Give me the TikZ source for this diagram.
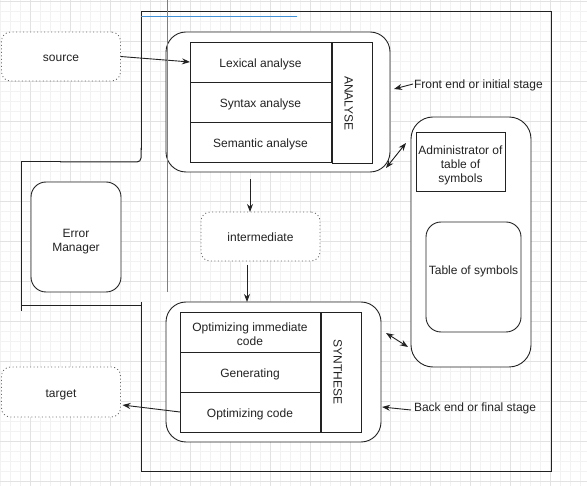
\documentclass[tikz,border=0pt]{standalone}
\usepackage{fontspec}
\setmainfont{Liberation Sans}
\usetikzlibrary{arrows.meta}
\definecolor{gridmin}{HTML}{F2F2F2}
\definecolor{gridmaj}{HTML}{E2E2E2}
\definecolor{blueline}{HTML}{3F8FD6}
\definecolor{ink}{HTML}{222222}
\begin{document}
\begin{tikzpicture}[x=1pt,y=-1pt,
  font=\fontsize{12}{14}\selectfont,
  every node/.style={inner sep=0pt, outer sep=0pt, text=ink, text height=13pt, text depth=2pt},
  multi/.style={align=center, text height=, text depth=},
  box/.style={draw=ink, line width=0.9pt, fill=white},
  group/.style={box, rounded corners=20pt},
  soft/.style={box, rounded corners=15pt},
  dotbox/.style={draw=gray!80!black, line width=0.8pt, dash pattern=on 1pt off 2.5pt, rounded corners=9pt, fill=white},
  arr/.style={draw=ink, line width=0.9pt, -{Stealth[length=8pt,width=6pt]}},
  darr/.style={draw=ink, line width=0.9pt, {Stealth[length=8pt,width=6pt]}-{Stealth[length=8pt,width=6pt]}},
  frame/.style={draw=ink, line width=1pt},
  guide/.style={draw=blueline, line width=1pt}
]
\useasboundingbox (0,0) rectangle (587,486);
\fill[white] (0,0) rectangle (587,486);
% grid
\foreach \x in {0,10,...,580} \draw[gridmin, line width=0.6pt] (\x,0) -- (\x,486);
\foreach \y in {1,11,...,481} \draw[gridmin, line width=0.6pt] (0,\y) -- (587,\y);
\foreach \x in {30,70,...,570} \draw[gridmaj, line width=0.6pt] (\x,0) -- (\x,486);
\foreach \y in {1,41,...,481} \draw[gridmaj, line width=0.6pt] (0,\y) -- (587,\y);

% outer frame
\draw[frame] (141,302) -- (141,472) -- (551,472) -- (551,12) -- (141,12) -- (141,150);
\draw[frame, rounded corners=4pt] (141,148) -- (141,162) -- (60,162);
\draw[frame] (61,162) -- (21,162) -- (21,311);
\draw[frame] (21,306) -- (141,306);

% source / target / intermediate
\node[dotbox, minimum width=119pt, minimum height=49pt] (src) at (61,56.5) {source};
\node[dotbox, minimum width=119pt, minimum height=50pt] (tgt) at (61,392) {target};
\node[dotbox, minimum width=119pt, minimum height=49pt] (inter) at (260.5,236.5) {intermediate};

% analyse group
\node[group, minimum width=224pt, minimum height=140pt] (ana) at (278,102) {};
\node[box, minimum width=141pt, minimum height=40pt] (lex) at (260.5,62) {Lexical analyse};
\node[box, minimum width=141pt, minimum height=40pt] (syn) at (260.5,102) {Syntax analyse};
\node[box, minimum width=141pt, minimum height=40pt] (sem) at (260.5,142) {Semantic analyse};
\node[box, minimum width=40pt, minimum height=121pt] (analab) at (352,102.5) {};
\node[rotate=-90] (anatxt) at (350,103.5) {ANALYSE};

% symbols group
\node[box, rounded corners=22pt, minimum width=120pt, minimum height=250pt] (sym) at (471,242) {};
\node[box, minimum width=89pt, minimum height=59pt] (adm) at (460.5,161.5) {};
\node[multi] (admtxt) at (460.5,165) {Administrator of\\table of\\symbols};
\node[soft, minimum width=95pt, minimum height=110pt] (tab) at (473.5,277) {};
\node (tabtxt) at (473.5,269.5) {Table of symbols};

% error manager
\node[soft, minimum width=90pt, minimum height=110pt] (err) at (76,237) {};
\node[multi] (errtxt) at (76,241.5) {Error\\Manager};

% synthese group
\node[group, minimum width=215pt, minimum height=140pt] (syns) at (273.5,372) {};
\node[box, minimum width=140pt, minimum height=40pt] (oic) at (250,332) {};
\node[multi] (oictxt) at (250,334.5) {Optimizing immediate\\code};
\node[box, minimum width=140pt, minimum height=40pt] (gen) at (250,372) {Generating};
\node[box, minimum width=140pt, minimum height=40pt] (opc) at (250,412) {Optimizing code};
\node[box, minimum width=40pt, minimum height=120pt] (synlab) at (341,372) {};
\node[rotate=-90] (syntxt) at (339,372) {SYNTHESE};

% labels
\node[anchor=west] (fe) at (414,83) {Front end or initial stage};
\node[anchor=west] (be) at (414,406) {Back end or final stage};

% connector end points
\coordinate (feTip) at (394,89);
\coordinate (beTip) at (382,407);
\coordinate (a1) at (386,168);
\coordinate (a2) at (406,143);
\coordinate (b1) at (386,333);
\coordinate (b2) at (408,347);

% connectors
\draw[arr] (src.east) -- (lex.west);
\draw[arr] ([shift={(-28,7)}]ana.south) -- ([xshift=-10.5pt]inter.north);
\draw[arr] ([shift={(-13.5,4)}]inter.south) -- ([xshift=-26.5pt]syns.north);
\draw[arr] (opc.west) -- ([shift={(2,13)}]tgt.east);
\draw[arr] ([xshift=-1pt,yshift=-1pt]fe.west) -- (feTip);
\draw[arr] ([xshift=-3pt,yshift=-4pt]be.west) -- (beTip);
\draw[darr] (a1) -- (a2);
\draw[darr] (b1) -- (b2);

% blue guide lines (on top)
\draw[guide, line width=1.4pt] (167.5,0) -- (167.5,292);
\draw[guide] (141,16.5) -- (297,16.5);
\end{tikzpicture}
\end{document}
